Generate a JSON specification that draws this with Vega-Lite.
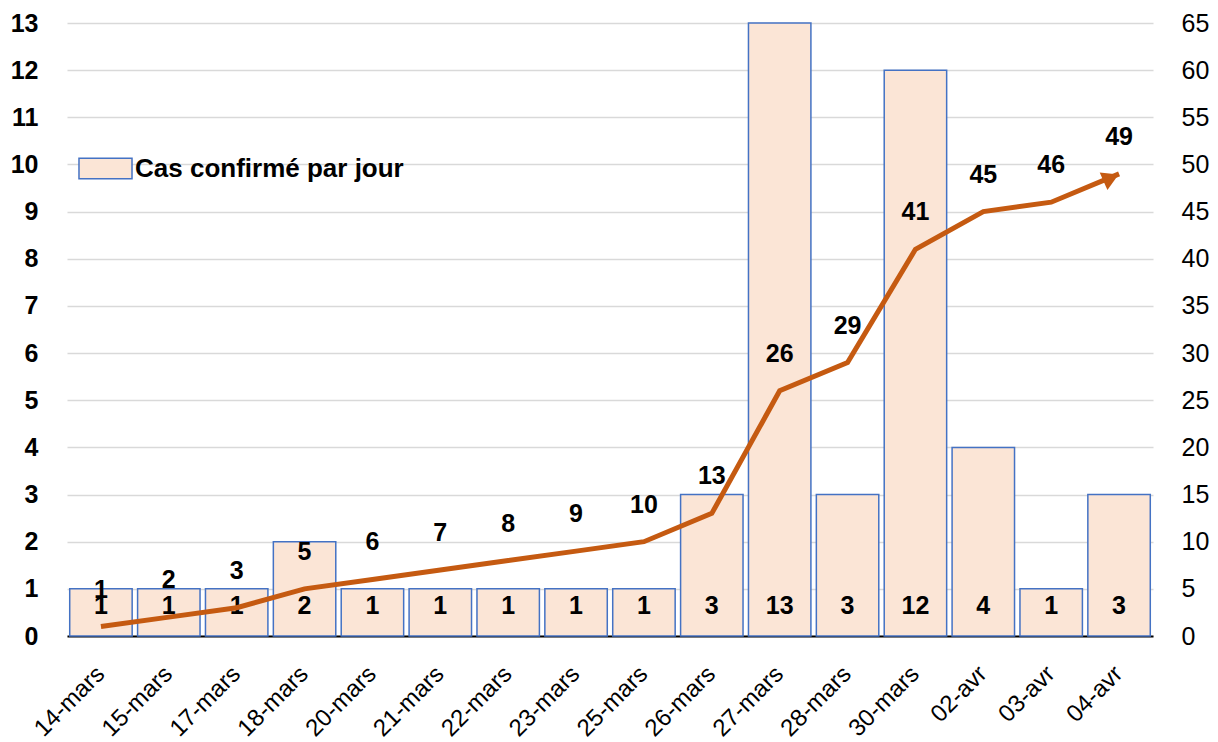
{
  "$schema": "https://vega.github.io/schema/vega-lite/v6.json",
  "width": 1086,
  "height": 613,
  "autosize": {"type": "none"},
  "padding": {"left": 67, "top": 23, "right": 65, "bottom": 106},
  "background": "white",
  "config": {
    "view": {"stroke": null},
    "font": "Liberation Sans"
  },
  "data": {
    "values": [
      {"date": "14-mars", "daily": 1, "cumul": 1},
      {"date": "15-mars", "daily": 1, "cumul": 2},
      {"date": "17-mars", "daily": 1, "cumul": 3},
      {"date": "18-mars", "daily": 2, "cumul": 5},
      {"date": "20-mars", "daily": 1, "cumul": 6},
      {"date": "21-mars", "daily": 1, "cumul": 7},
      {"date": "22-mars", "daily": 1, "cumul": 8},
      {"date": "23-mars", "daily": 1, "cumul": 9},
      {"date": "25-mars", "daily": 1, "cumul": 10},
      {"date": "26-mars", "daily": 3, "cumul": 13},
      {"date": "27-mars", "daily": 13, "cumul": 26},
      {"date": "28-mars", "daily": 3, "cumul": 29},
      {"date": "30-mars", "daily": 12, "cumul": 41},
      {"date": "02-avr", "daily": 4, "cumul": 45},
      {"date": "03-avr", "daily": 1, "cumul": 46},
      {"date": "04-avr", "daily": 3, "cumul": 49}
    ]
  },
  "encoding": {
    "x": {
      "field": "date",
      "type": "nominal",
      "sort": null,
      "scale": {"paddingInner": 0.08, "paddingOuter": 0.04},
      "axis": {
        "title": null,
        "labelAngle": -45,
        "labelAlign": "right",
        "labelBaseline": "middle",
        "labelFontSize": 24,
        "labelColor": "black",
        "labelFont": "Liberation Sans",
        "labelPadding": 34,
        "labelLimit": 0,
        "ticks": false,
        "domainColor": "black",
        "domainWidth": 2,
        "grid": false
      }
    }
  },
  "layer": [
    {
      "layer": [
        {
          "mark": {"type": "bar", "stroke": "#4472C4", "strokeWidth": 1.5},
          "encoding": {
            "y": {
              "field": "daily",
              "type": "quantitative",
              "scale": {"domain": [0, 13], "nice": false},
              "axis": {
                "title": null,
                "orient": "left",
                "values": [0,1,2,3,4,5,6,7,8,9,10,11,12,13],
                "labelFontSize": 25,
                "labelFontWeight": "bold",
                "labelColor": "black",
                "labelPadding": 29,
                "ticks": false,
                "domain": false,
                "grid": true,
                "gridColor": "#D9D9D9",
                "gridWidth": 1.5
              }
            },
            "fill": {
              "datum": "Cas confirmé par jour",
              "type": "nominal",
              "scale": {"range": ["#FBE5D6"]},
              "legend": {
                "title": null,
                "orient": "none",
                "legendX": 17,
                "legendY": 124,
                "symbolType": "M-1.3,-0.5H1.3V0.5H-1.3Z",
                "symbolSize": 1664,
                "symbolStrokeColor": "#4472C4",
                "symbolStrokeWidth": 1.5,
                "labelFontSize": 26,
                "labelFontWeight": "bold",
                "labelColor": "black",
                "labelLimit": 0,
                "labelOffset": 8
              }
            }
          }
        },
        {
          "mark": {"type": "text", "fontSize": 25, "fontWeight": "bold", "color": "black", "baseline": "middle", "dy": -30},
          "encoding": {
            "y": {"datum": 0, "type": "quantitative"},
            "text": {"field": "daily", "type": "quantitative"}
          }
        }
      ]
    },
    {
      "layer": [
        {
          "mark": {"type": "line", "color": "#C55A11", "strokeWidth": 5},
          "encoding": {
            "y": {
              "field": "cumul",
              "type": "quantitative",
              "scale": {"domain": [0, 65], "nice": false},
              "axis": {
                "title": null,
                "orient": "right",
                "values": [0,5,10,15,20,25,30,35,40,45,50,55,60,65],
                "labelFontSize": 25,
                "labelColor": "black",
                "labelPadding": 28,
                "ticks": false,
                "domain": false,
                "grid": false
              }
            }
          }
        },
        {
          "transform": [{"filter": "datum.date === '04-avr'"}],
          "mark": {"type": "point", "shape": "triangle-right", "filled": true, "color": "#C55A11", "opacity": 1, "size": 360, "angle": -24, "xOffset": -8, "yOffset": 4},
          "encoding": {
            "y": {"field": "cumul", "type": "quantitative"}
          }
        },
        {
          "mark": {"type": "text", "fontSize": 25, "fontWeight": "bold", "color": "black", "baseline": "middle", "dy": -37},
          "encoding": {
            "y": {"field": "cumul", "type": "quantitative"},
            "text": {"field": "cumul", "type": "quantitative"}
          }
        }
      ]
    }
  ],
  "resolve": {"scale": {"y": "independent", "fill": "independent"}}
}
